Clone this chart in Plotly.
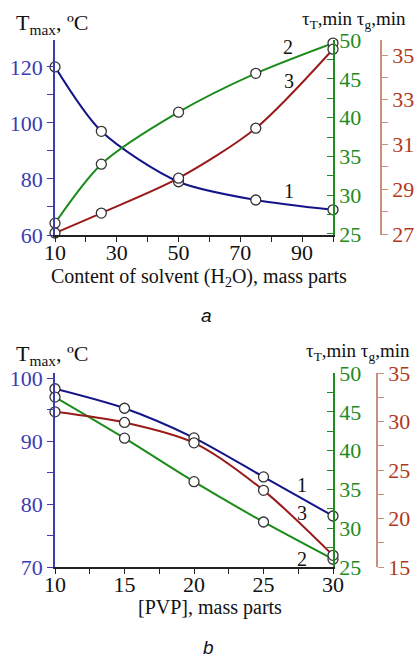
import plotly.graph_objects as go

# ---- data: chart a ----
x_a = [10, 25, 50, 75, 100]
tmax_a = [120, 97, 79, 72.5, 69]
tauT_a = [26.4, 34.0, 40.7, 45.7, 49.6]
taug_a = [27.05, 27.94, 29.5, 31.73, 35.26]

# ---- data: chart b ----
x_b = [10, 15, 20, 25, 30]
tmax_b = [98.3, 95.2, 90.5, 84.3, 78.1]
tauT_b = [46.9, 41.6, 36.0, 30.8, 26.0]
taug_b = [31.0, 29.9, 27.8, 22.9, 16.2]

W, H = 418, 658
SERIF = "Liberation Serif, Times New Roman, serif"
BLUE_LINE = "#14148a"
BLUE_AX = "#3c3cb0"
GREEN_LINE = "#1a8c1a"
GREEN_AX = "#228b22"
RED_LINE = "#9a1a1a"
RED_AX = "#c8907f"
RED_TXT = "#b03a1c"

def px(x):
    return x / W

def py(y):
    return 1 - y / H

fig = go.Figure()

marker = dict(symbol="circle", size=10, color="white", line=dict(color="#333333", width=1.3))

def add(x, y, color, xa, ya):
    fig.add_trace(go.Scatter(x=x, y=y, mode="lines+markers", xaxis=xa, yaxis=ya,
                             line=dict(color=color, width=2, shape="spline", smoothing=0.8),
                             marker=marker, showlegend=False, cliponaxis=False))

add(x_a, tmax_a, BLUE_LINE, "x", "y")
add(x_a, tauT_a, GREEN_LINE, "x", "y2")
add(x_a, taug_a, RED_LINE, "x", "y3")
add(x_b, tmax_b, BLUE_LINE, "x2", "y4")
add(x_b, tauT_b, GREEN_LINE, "x2", "y5")
add(x_b, taug_b, RED_LINE, "x2", "y6")

tickfont = lambda c: dict(family=SERIF, size=22, color=c)

def xax(rng, dtick, mdtick, anchor):
    return dict(range=rng, domain=[px(55), px(333)], anchor=anchor, tick0=10, dtick=dtick,
                showline=True, linecolor="#222222", linewidth=1.5, ticks="outside", ticklen=5,
                tickcolor="#222222", tickfont=tickfont("#111111"), showgrid=False, zeroline=False,
                automargin=False, ticklabelstandoff=-8,
                minor=dict(dtick=mdtick, tick0=10, ticks="outside", ticklen=5, tickcolor="#222222"))

def yax(rng, t0, dtick, mdtick, color, txtcolor, side, ticks, anchor, domain=None,
        overlaying=None, position=None):
    d = dict(range=rng, tick0=t0, dtick=dtick, showline=True, linecolor=color, linewidth=1.5,
             ticks=ticks, ticklen=6, tickcolor=color, tickfont=tickfont(txtcolor),
             showgrid=False, zeroline=False, side=side, anchor=anchor, automargin=False,
             minor=dict(dtick=mdtick, tick0=t0, ticks=ticks, ticklen=6, tickcolor=color))
    if domain is not None:
        d["domain"] = domain
    if overlaying is not None:
        d["overlaying"] = overlaying
    if position is not None:
        d["position"] = position
    return d

dom_a = [py(235), py(40)]
dom_b = [py(567), py(373)]

fig.update_layout(
    template="none",
    width=W, height=H, margin=dict(l=0, r=0, t=0, b=0, pad=0),
    paper_bgcolor="white", plot_bgcolor="white",
    xaxis=xax([10, 100], 20, 10, "y"),
    xaxis2=xax([10, 30], 5, 2.5, "y4"),
    yaxis=yax([60, 129.6], 60, 20, 10, BLUE_AX, BLUE_AX, "left", "outside", "x", domain=dom_a),
    yaxis2=yax([24.87, 50], 25, 5, 2.5, GREEN_AX, GREEN_AX, "right", "inside", "x", overlaying="y"),
    yaxis3=yax([26.96, 35.67], 27, 2, 1, RED_AX, RED_TXT, "right", "outside", "free",
               overlaying="y", position=px(381)),
    yaxis4=yax([70, 100.8], 70, 10, 5, BLUE_AX, BLUE_AX, "left", "outside", "x2", domain=dom_b),
    yaxis5=yax([25, 50], 25, 5, 2.5, GREEN_AX, GREEN_AX, "right", "inside", "x2", overlaying="y4"),
    yaxis6=yax([15, 35], 15, 5, 2.5, RED_AX, RED_TXT, "right", "outside", "free",
               overlaying="y4", position=px(377)),
)

def ann(text, x, y, size=20, color="#111111", family=SERIF, xanchor="center", italic=False):
    if italic:
        text = "<i>" + text + "</i>"
    fig.add_annotation(text=text, x=px(x), y=py(y), xref="paper", yref="paper", showarrow=False,
                       xanchor=xanchor, yanchor="middle",
                       font=dict(family=family, size=size, color=color))

# titles chart a
ann("T<sub>max</sub>, ºC", 14, 24, size=22, xanchor="left")
ann("τ<sub>T</sub>,min τ<sub>g</sub>,min", 300, 20, size=19, xanchor="left")
ann("Content of solvent (H<sub>2</sub>O), mass parts", 199, 277, size=20)
ann("1", 289, 191, size=20)
ann("2", 288, 47, size=20)
ann("3", 289, 81, size=20)
ann("a", 206, 315, size=19, family="Liberation Sans, Arial, sans-serif", italic=True)

# titles chart b
ann("T<sub>max</sub>, ºC", 14, 355, size=22, xanchor="left")
ann("τ<sub>T</sub>,min τ<sub>g</sub>,min", 304, 352, size=19, xanchor="left")
ann("[PVP], mass parts", 210, 607, size=20)
ann("1", 302, 485, size=20)
ann("3", 302, 513, size=20)
ann("2", 302, 559, size=20)
ann("b", 208, 647, size=19, family="Liberation Sans, Arial, sans-serif", italic=True)

fig.write_html("out.html", config={"displayModeBar": False},
               post_script="document.body.style.margin='0px';document.body.style.overflow='hidden';")
